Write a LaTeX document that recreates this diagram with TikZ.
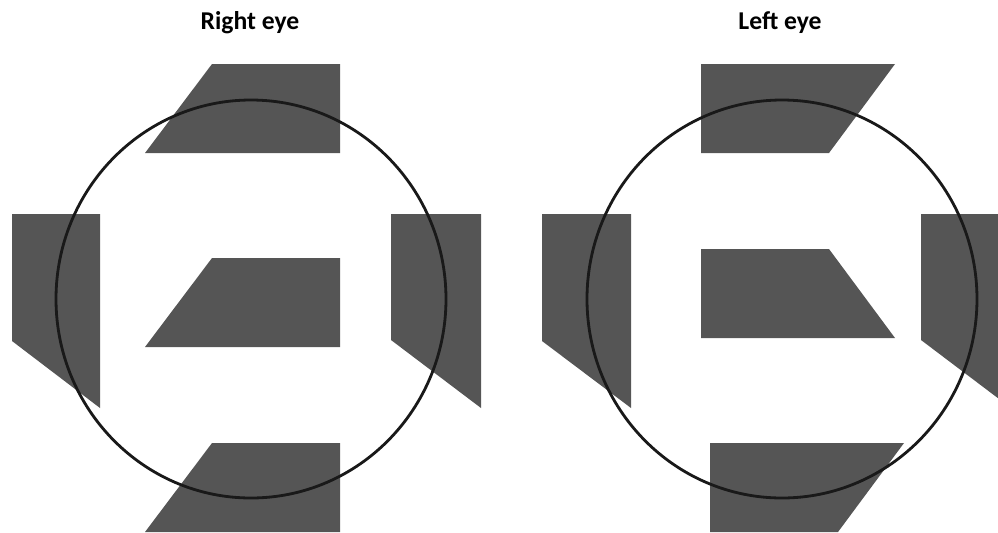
\documentclass[tikz,border=0pt]{standalone}
\usepackage{fontspec}
\setsansfont{Carlito}
\usepackage{tikz}
\usetikzlibrary{positioning}

\definecolor{blockgray}{RGB}{85,85,85}

\begin{document}
\begin{tikzpicture}[
  x=0.02cm, y=-0.02cm,
  block/.style  = {fill=blockgray, draw=none},
  field/.style  = {draw=black!90, line width=1.6pt},
  eyelbl/.style = {font=\sffamily\bfseries\fontsize{14.6}{16}\selectfont,
                   inner sep=0pt, anchor=base},
]
\useasboundingbox (0,0) rectangle (998,532);
\clip (0,0) rectangle (998,532);

%% ── RIGHT EYE ─────────────────────────────────────────────────────────────
\node[eyelbl] (rtitle) at (250,29) {Right eye};

\fill[block] (212,64)  -- (340,64)  -- (340,153) -- (145,153) -- cycle;
\fill[block] (212,258) -- (340,258) -- (340,347) -- (145,347) -- cycle;
\fill[block] (212,443) -- (340,443) -- (340,532) -- (145,532) -- cycle;
\fill[block] (12,214)  -- (100,214) -- (100,408) -- (12,341)  -- cycle;
\fill[block] (391,214) -- (481,214) -- (481,408) -- (391,340) -- cycle;

\draw[field] (251,299) ellipse [x radius=195, y radius=199];

%% ── LEFT EYE ──────────────────────────────────────────────────────────────
\node[eyelbl] (ltitle) at (780,29) {Left eye};

\fill[block] (701,64)  -- (895,64)  -- (829,153) -- (701,153) -- cycle;
\fill[block] (701,249) -- (829,249) -- (895,338) -- (701,338) -- cycle;
\fill[block] (710,443) -- (904,443) -- (838,532) -- (710,532) -- cycle;
\fill[block] (542,214) -- (631,214) -- (631,408) -- (542,341) -- cycle;
\fill[block] (921,214) -- (1011,214) -- (1011,408) -- (921,340) -- cycle;

\draw[field] (782,299) ellipse [x radius=195, y radius=199];

\end{tikzpicture}
\end{document}
